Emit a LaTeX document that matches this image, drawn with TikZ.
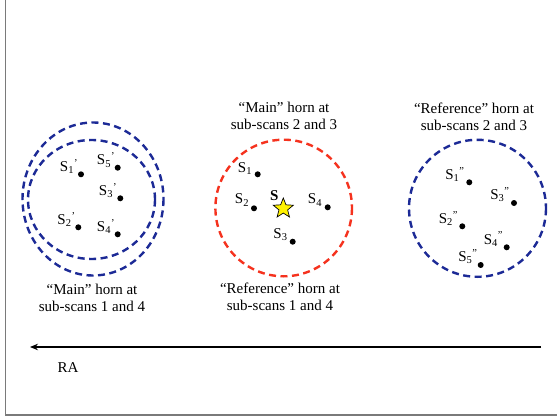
\documentclass[tikz,border=0pt]{standalone}
\usepackage{fontspec}
\setmainfont{Liberation Serif}
\usetikzlibrary{shapes.geometric,arrows.meta}
\definecolor{hornred}{HTML}{F5321E}
\definecolor{hornblue}{HTML}{1C2A96}
\definecolor{framegray}{HTML}{7A7A7A}
\begin{document}
\begin{tikzpicture}[x=1pt,y=-1pt,
  every node/.style={font=\fontsize{15}{17}\selectfont, inner sep=0pt},
  beam/.style={line width=2.4pt, dash pattern=on 7pt off 4.5pt},
  mainbeam/.style={beam, draw=hornred},
  refbeam/.style={beam, draw=hornblue},
  src/.style={circle, fill=black, minimum size=6pt, inner sep=0pt},
  lbl/.style={anchor=center},
  caption/.style={align=center}]

% canvas and frame
\fill[white] (0,0) rectangle (557,420);
\useasboundingbox (0,0) rectangle (557,420);
\draw[framegray, line width=1.4pt] (5.5,0) -- (5.5,415) -- (557,415);

% ---- left: main horn at sub-scans 1 and 4
\draw[refbeam] (93,199) ellipse [x radius=70.5, y radius=76.5];
\draw[refbeam] (91.5,199.5) ellipse [x radius=63.5, y radius=59.5];
\node[src] (l1) at (81,174.3) {};
\node[src] (l5) at (117.7,167.7) {};
\node[src] (l3) at (120.3,198.3) {};
\node[src] (l2) at (78.3,227.3) {};
\node[src] (l4) at (117.7,234.3) {};
\node[lbl] (tl1) at (69,166.5) {S\textsubscript{1}\textsuperscript{’}};
\node[lbl] (tl5) at (106,160) {S\textsubscript{5}\textsuperscript{’}};
\node[lbl] (tl3) at (108,190.5) {S\textsubscript{3}\textsuperscript{’}};
\node[lbl] (tl2) at (66.5,219.5) {S\textsubscript{2}\textsuperscript{’}};
\node[lbl] (tl4) at (106,226.5) {S\textsubscript{4}\textsuperscript{’}};
\node[caption] (capl) at (92,298) {“Main” horn at\\sub-scans 1 and 4};

% ---- centre: source and main horn at sub-scans 2 and 3
\draw[mainbeam] (283.7,208) circle [radius=68.3];
\node[caption] (capc1) at (284,116) {“Main” horn at\\sub-scans 2 and 3};
\node[caption] (capc2) at (280,297) {“Reference” horn at\\sub-scans 1 and 4};
\node[src] (c1) at (257.7,174.3) {};
\node[src] (c2) at (254,208.3) {};
\node[src] (c4) at (327.7,207.3) {};
\node[src] (c3) at (292.7,241.7) {};
\node[star, star points=5, star point ratio=2.3, minimum size=21pt,
      fill=yellow, draw=black, line width=0.7pt] (s) at (283.3,208.5) {};
\node[lbl] (tc1) at (245,168.3) {S\textsubscript{1}};
\node[lbl] (tc2) at (242,200) {S\textsubscript{2}};
\node[lbl] (tc4) at (315,200) {S\textsubscript{4}};
\node[lbl] (tc3) at (280.5,234.3) {S\textsubscript{3}};
\node[lbl] (ts) at (274.3,195.7) {\textbf{S}};

% ---- right: reference horn at sub-scans 2 and 3
\draw[refbeam] (477.5,208.3) circle [radius=68.5];
\node[caption] (capr) at (474,117) {“Reference” horn at\\sub-scans 2 and 3};
\node[src] (r1) at (469.3,182.3) {};
\node[src] (r3) at (514,203) {};
\node[src] (r2) at (462.3,226.3) {};
\node[src] (r4) at (506.7,247.3) {};
\node[src] (r5) at (480.7,265) {};
\node[lbl] (tr1) at (455,174.5) {S\textsubscript{1}\textsuperscript{”}};
\node[lbl] (tr3) at (500,194.5) {S\textsubscript{3}\textsuperscript{”}};
\node[lbl] (tr2) at (448.5,218.5) {S\textsubscript{2}\textsuperscript{”}};
\node[lbl] (tr4) at (493.5,239) {S\textsubscript{4}\textsuperscript{”}};
\node[lbl] (tr5) at (468,256.5) {S\textsubscript{5}\textsuperscript{”}};

% ---- scan direction
\coordinate (raStart) at (541,347);
\coordinate (raEnd) at (30,347);
\draw[line width=1.5pt, -{Stealth[length=8pt,width=6.5pt]}] (raStart) -- (raEnd);
\node (ra) at (68,368) {RA};
\end{tikzpicture}
\end{document}
